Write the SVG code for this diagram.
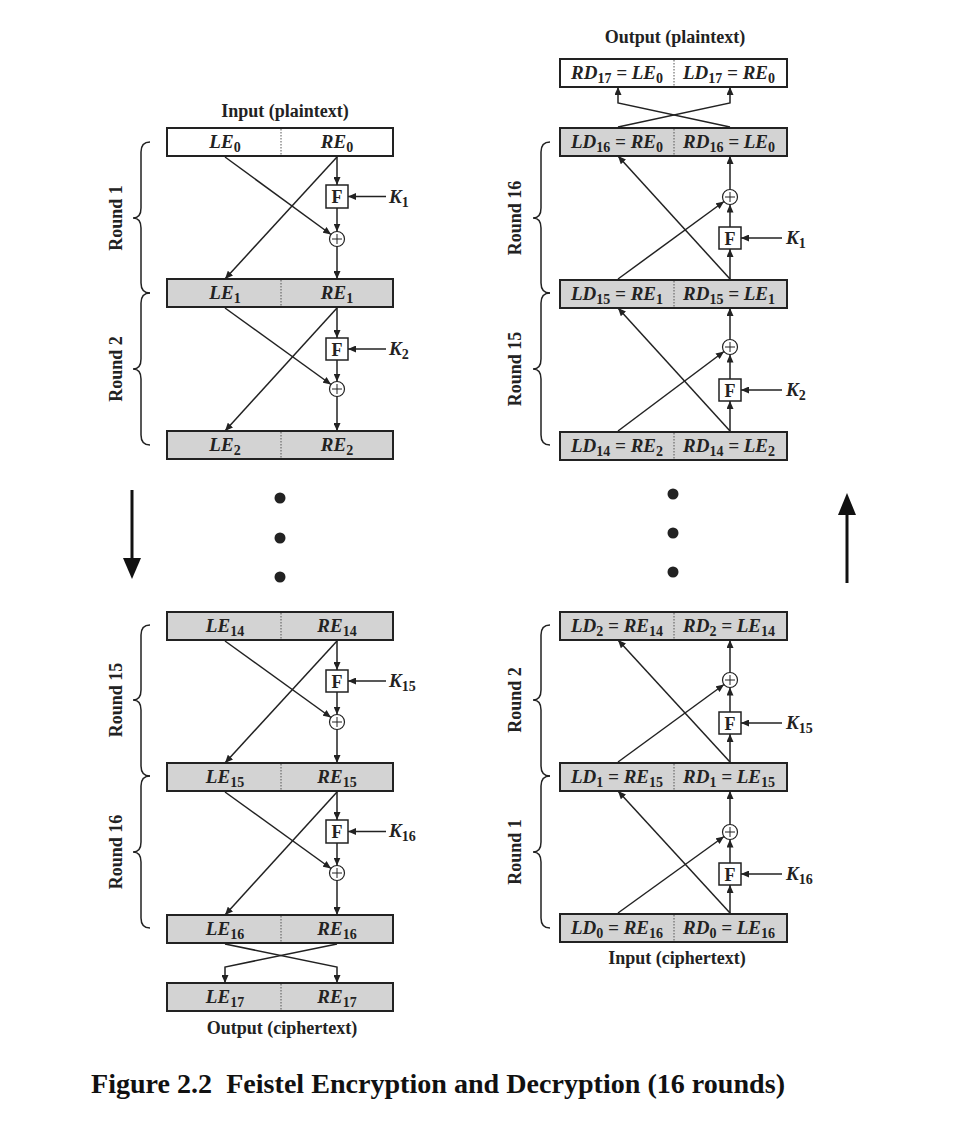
<svg xmlns="http://www.w3.org/2000/svg" width="956" height="1125" viewBox="0 0 956 1125">
<style>
.bx{stroke:#222;stroke-width:2;fill:#d3d3d3}
.bw{stroke:#222;stroke-width:2;fill:#fff}
.dv{stroke:#555;stroke-width:1;stroke-dasharray:1.5,1.5}
.fb{stroke:#222;stroke-width:1.5;fill:#fff}
.ln{stroke:#222;stroke-width:1.5;fill:none}
.ar{stroke:#222;stroke-width:1.5;fill:none;marker-end:url(#ah)}
.lb{font-family:"Liberation Serif",serif;font-weight:bold;font-style:italic;font-size:19px;fill:#222;text-anchor:middle}
.kl{font-family:"Liberation Serif",serif;font-weight:bold;font-style:italic;font-size:19px;fill:#222}
.tt{font-family:"Liberation Serif",serif;font-weight:bold;font-size:18px;fill:#222;text-anchor:middle}
.ff{font-family:"Liberation Serif",serif;font-weight:bold;font-size:18px;fill:#222;text-anchor:middle}
.sb{font-size:14px;font-style:normal}
.cap{font-family:"Liberation Serif",serif;font-weight:bold;font-size:27px;fill:#111}
</style>
<defs>
<marker id="ah" viewBox="0 0 8 7" refX="8" refY="3.5" markerWidth="8" markerHeight="7" markerUnits="userSpaceOnUse" orient="auto">
<path d="M0,0 L8,3.5 L0,7 z" fill="#222"/>
</marker>
<g id="xor"><circle r="7.5" fill="#fff" stroke="#222" stroke-width="1.2"/><path d="M-5,0 H5 M0,-5 V5" stroke="#222" stroke-width="1"/></g>
</defs>
<rect width="956" height="1125" fill="#fff"/>

<!-- LEFT: titles -->
<text class="tt" x="285" y="117">Input (plaintext)</text>
<text class="tt" x="282" y="1034">Output (ciphertext)</text>

<!-- Left boxes -->
<g id="le0"><rect class="bw" x="167" y="128" width="226" height="28"/><line class="dv" x1="281" y1="129" x2="281" y2="155"/>
<text class="lb" x="225" y="148">LE<tspan class="sb" dy="4">0</tspan></text><text class="lb" x="337" y="148">RE<tspan class="sb" dy="4">0</tspan></text></g>
<g id="le1"><rect class="bx" x="167" y="279" width="226" height="28"/><line class="dv" x1="281" y1="280" x2="281" y2="306"/>
<text class="lb" x="225" y="299">LE<tspan class="sb" dy="4">1</tspan></text><text class="lb" x="337" y="299">RE<tspan class="sb" dy="4">1</tspan></text></g>
<g id="le2"><rect class="bx" x="167" y="431" width="226" height="28"/><line class="dv" x1="281" y1="432" x2="281" y2="458"/>
<text class="lb" x="225" y="451">LE<tspan class="sb" dy="4">2</tspan></text><text class="lb" x="337" y="451">RE<tspan class="sb" dy="4">2</tspan></text></g>
<g id="le14"><rect class="bx" x="167" y="612" width="226" height="28"/><line class="dv" x1="281" y1="613" x2="281" y2="639"/>
<text class="lb" x="225" y="632">LE<tspan class="sb" dy="4">14</tspan></text><text class="lb" x="337" y="632">RE<tspan class="sb" dy="4">14</tspan></text></g>
<g id="le15"><rect class="bx" x="167" y="763" width="226" height="28"/><line class="dv" x1="281" y1="764" x2="281" y2="790"/>
<text class="lb" x="225" y="783">LE<tspan class="sb" dy="4">15</tspan></text><text class="lb" x="337" y="783">RE<tspan class="sb" dy="4">15</tspan></text></g>
<g id="le16"><rect class="bx" x="167" y="915" width="226" height="28"/><line class="dv" x1="281" y1="916" x2="281" y2="942"/>
<text class="lb" x="225" y="935">LE<tspan class="sb" dy="4">16</tspan></text><text class="lb" x="337" y="935">RE<tspan class="sb" dy="4">16</tspan></text></g>
<g id="le17"><rect class="bx" x="167" y="983" width="226" height="28"/><line class="dv" x1="281" y1="984" x2="281" y2="1010"/>
<text class="lb" x="225" y="1003">LE<tspan class="sb" dy="4">17</tspan></text><text class="lb" x="337" y="1003">RE<tspan class="sb" dy="4">17</tspan></text></g>

<!-- Left F boxes and XORs -->
<g id="lf1"><rect class="fb" x="326" y="185" width="22" height="23"/><text class="ff" x="337" y="203">F</text></g>
<g id="lx1"><use href="#xor" x="337" y="239"/></g>
<g id="lf2"><rect class="fb" x="326" y="338" width="22" height="22"/><text class="ff" x="337" y="355.5">F</text></g>
<g id="lx2"><use href="#xor" x="337" y="389"/></g>
<g id="lf15"><rect class="fb" x="326" y="670" width="22" height="22"/><text class="ff" x="337" y="687.5">F</text></g>
<g id="lx15"><use href="#xor" x="337" y="722"/></g>
<g id="lf16"><rect class="fb" x="326" y="820" width="22" height="23"/><text class="ff" x="337" y="838">F</text></g>
<g id="lx16"><use href="#xor" x="337" y="873"/></g>

<!-- Left keys -->
<g id="lk1"><text class="kl" x="389" y="203">K<tspan class="sb" dy="4">1</tspan></text></g>
<g id="lk2"><text class="kl" x="389" y="355">K<tspan class="sb" dy="4">2</tspan></text></g>
<g id="lk15"><text class="kl" x="389" y="687">K<tspan class="sb" dy="4">15</tspan></text></g>
<g id="lk16"><text class="kl" x="389" y="837">K<tspan class="sb" dy="4">16</tspan></text></g>

<!-- RIGHT titles -->
<text class="tt" x="675" y="43">Output (plaintext)</text>
<text class="tt" x="677" y="964">Input (ciphertext)</text>

<!-- Right boxes -->
<g id="ld17"><rect class="bw" x="560" y="59" width="227" height="28"/><line class="dv" x1="674" y1="60" x2="674" y2="86"/>
<text class="lb" x="617" y="79">RD<tspan class="sb" dy="4">17</tspan><tspan dy="-4"> = LE</tspan><tspan class="sb" dy="4">0</tspan></text>
<text class="lb" x="729" y="79">LD<tspan class="sb" dy="4">17</tspan><tspan dy="-4"> = RE</tspan><tspan class="sb" dy="4">0</tspan></text></g>
<g id="ld16"><rect class="bx" x="560" y="128" width="227" height="28"/><line class="dv" x1="674" y1="129" x2="674" y2="155"/>
<text class="lb" x="617" y="148">LD<tspan class="sb" dy="4">16</tspan><tspan dy="-4"> = RE</tspan><tspan class="sb" dy="4">0</tspan></text>
<text class="lb" x="729" y="148">RD<tspan class="sb" dy="4">16</tspan><tspan dy="-4"> = LE</tspan><tspan class="sb" dy="4">0</tspan></text></g>
<g id="ld15"><rect class="bx" x="560" y="280" width="227" height="28"/><line class="dv" x1="674" y1="281" x2="674" y2="307"/>
<text class="lb" x="617" y="300">LD<tspan class="sb" dy="4">15</tspan><tspan dy="-4"> = RE</tspan><tspan class="sb" dy="4">1</tspan></text>
<text class="lb" x="729" y="300">RD<tspan class="sb" dy="4">15</tspan><tspan dy="-4"> = LE</tspan><tspan class="sb" dy="4">1</tspan></text></g>
<g id="ld14"><rect class="bx" x="560" y="432" width="227" height="28"/><line class="dv" x1="674" y1="433" x2="674" y2="459"/>
<text class="lb" x="617" y="452">LD<tspan class="sb" dy="4">14</tspan><tspan dy="-4"> = RE</tspan><tspan class="sb" dy="4">2</tspan></text>
<text class="lb" x="729" y="452">RD<tspan class="sb" dy="4">14</tspan><tspan dy="-4"> = LE</tspan><tspan class="sb" dy="4">2</tspan></text></g>
<g id="ld2"><rect class="bx" x="560" y="612" width="227" height="28"/><line class="dv" x1="674" y1="613" x2="674" y2="639"/>
<text class="lb" x="617" y="632">LD<tspan class="sb" dy="4">2</tspan><tspan dy="-4"> = RE</tspan><tspan class="sb" dy="4">14</tspan></text>
<text class="lb" x="729" y="632">RD<tspan class="sb" dy="4">2</tspan><tspan dy="-4"> = LE</tspan><tspan class="sb" dy="4">14</tspan></text></g>
<g id="ld1"><rect class="bx" x="560" y="763" width="227" height="28"/><line class="dv" x1="674" y1="764" x2="674" y2="790"/>
<text class="lb" x="617" y="783">LD<tspan class="sb" dy="4">1</tspan><tspan dy="-4"> = RE</tspan><tspan class="sb" dy="4">15</tspan></text>
<text class="lb" x="729" y="783">RD<tspan class="sb" dy="4">1</tspan><tspan dy="-4"> = LE</tspan><tspan class="sb" dy="4">15</tspan></text></g>
<g id="ld0"><rect class="bx" x="560" y="914" width="227" height="28"/><line class="dv" x1="674" y1="915" x2="674" y2="941"/>
<text class="lb" x="617" y="934">LD<tspan class="sb" dy="4">0</tspan><tspan dy="-4"> = RE</tspan><tspan class="sb" dy="4">16</tspan></text>
<text class="lb" x="729" y="934">RD<tspan class="sb" dy="4">0</tspan><tspan dy="-4"> = LE</tspan><tspan class="sb" dy="4">16</tspan></text></g>

<!-- Right F boxes and XORs -->
<g id="rf16"><rect class="fb" x="719" y="227" width="22" height="22"/><text class="ff" x="730" y="244.5">F</text></g>
<g id="rx16"><use href="#xor" x="730" y="197"/></g>
<g id="rf15"><rect class="fb" x="719" y="379" width="22" height="22"/><text class="ff" x="730" y="396.5">F</text></g>
<g id="rx15"><use href="#xor" x="730" y="347"/></g>
<g id="rf2"><rect class="fb" x="719" y="712" width="22" height="22"/><text class="ff" x="730" y="729.5">F</text></g>
<g id="rx2"><use href="#xor" x="730" y="680"/></g>
<g id="rf1"><rect class="fb" x="719" y="863" width="22" height="22"/><text class="ff" x="730" y="880.5">F</text></g>
<g id="rx1"><use href="#xor" x="730" y="832"/></g>

<!-- Right keys -->
<g id="rk1"><text class="kl" x="786" y="244">K<tspan class="sb" dy="4">1</tspan></text></g>
<g id="rk2"><text class="kl" x="786" y="396">K<tspan class="sb" dy="4">2</tspan></text></g>
<g id="rk15"><text class="kl" x="786" y="729">K<tspan class="sb" dy="4">15</tspan></text></g>
<g id="rk16"><text class="kl" x="786" y="880">K<tspan class="sb" dy="4">16</tspan></text></g>

<!-- Braces and round labels -->
<g id="braces" class="ln">
<path d="M150,142 Q141,142 141,152 L141,208 Q141,218 133,218 Q141,218 141,228 L141,283 Q141,293 150,293"/>
<path d="M150,293 Q141,293 141,303 L141,359 Q141,369 133,369 Q141,369 141,379 L141,435 Q141,445 150,445"/>
<path d="M150,625 Q141,625 141,635 L141,690 Q141,700 133,700 Q141,700 141,710 L141,766 Q141,776 150,776"/>
<path d="M150,776 Q141,776 141,786 L141,842 Q141,852 133,852 Q141,852 141,862 L141,918 Q141,928 150,928"/>
<path d="M550,142 Q541,142 541,152 L541,208 Q541,218 533,218 Q541,218 541,228 L541,283 Q541,293 550,293"/>
<path d="M550,293 Q541,293 541,303 L541,359 Q541,369 533,369 Q541,369 541,379 L541,435 Q541,445 550,445"/>
<path d="M550,625 Q541,625 541,635 L541,690 Q541,700 533,700 Q541,700 541,710 L541,766 Q541,776 550,776"/>
<path d="M550,776 Q541,776 541,786 L541,842 Q541,852 533,852 Q541,852 541,862 L541,918 Q541,928 550,928"/>
</g>
<g id="roundlabels">
<text class="tt" transform="translate(122,218) rotate(-90)">Round 1</text>
<text class="tt" transform="translate(122,369) rotate(-90)">Round 2</text>
<text class="tt" transform="translate(122,700) rotate(-90)">Round 15</text>
<text class="tt" transform="translate(122,852) rotate(-90)">Round 16</text>
<text class="tt" transform="translate(521,218) rotate(-90)">Round 16</text>
<text class="tt" transform="translate(521,369) rotate(-90)">Round 15</text>
<text class="tt" transform="translate(521,700) rotate(-90)">Round 2</text>
<text class="tt" transform="translate(521,852) rotate(-90)">Round 1</text>
</g>

<!-- Connectors -->
<g id="connectors">
<!-- left R1 -->
<path class="ar" d="M337,157 L337,185"/>
<path class="ar" d="M337,208 L337,231.5"/>
<path class="ar" d="M337,246.5 L337,279"/>
<path class="ar" d="M225,157 L331,234.5"/>
<path class="ar" d="M337,157 L225,279"/>
<path class="ar" d="M386,196.5 L348,196.5"/>
<!-- left R2 -->
<path class="ar" d="M337,308 L337,338"/>
<path class="ar" d="M337,360 L337,381.5"/>
<path class="ar" d="M337,396.5 L337,431"/>
<path class="ar" d="M225,308 L331,384.5"/>
<path class="ar" d="M337,308 L225,431"/>
<path class="ar" d="M386,349 L348,349"/>
<!-- left R15 -->
<path class="ar" d="M337,641 L337,670"/>
<path class="ar" d="M337,692 L337,714.5"/>
<path class="ar" d="M337,729.5 L337,763"/>
<path class="ar" d="M225,641 L331,717.5"/>
<path class="ar" d="M337,641 L225,763"/>
<path class="ar" d="M386,681 L348,681"/>
<!-- left R16 -->
<path class="ar" d="M337,792 L337,820"/>
<path class="ar" d="M337,843 L337,865.5"/>
<path class="ar" d="M337,880.5 L337,915"/>
<path class="ar" d="M225,792 L331,868.5"/>
<path class="ar" d="M337,792 L225,915"/>
<path class="ar" d="M386,831.5 L348,831.5"/>
<!-- left swap -->
<path class="ar" d="M225,944 L337,967 L337,983"/>
<path class="ar" d="M337,944 L225,967 L225,983"/>
<!-- right R16 -->
<path class="ar" d="M730,279 L730,249"/>
<path class="ar" d="M730,227 L730,204.5"/>
<path class="ar" d="M730,189.5 L730,156"/>
<path class="ar" d="M618,279 L724,201.5"/>
<path class="ar" d="M730,279 L618,156"/>
<path class="ar" d="M782,238 L741,238"/>
<!-- output swap -->
<path class="ar" d="M618,127 L730,103 L730,87"/>
<path class="ar" d="M730,127 L618,103 L618,87"/>
<!-- right R15 -->
<path class="ar" d="M730,431 L730,401"/>
<path class="ar" d="M730,379 L730,354.5"/>
<path class="ar" d="M730,339.5 L730,308"/>
<path class="ar" d="M618,431 L724,351.5"/>
<path class="ar" d="M730,431 L618,308"/>
<path class="ar" d="M782,390 L741,390"/>
<!-- right R2 -->
<path class="ar" d="M730,762 L730,734"/>
<path class="ar" d="M730,712 L730,687.5"/>
<path class="ar" d="M730,672.5 L730,640"/>
<path class="ar" d="M618,762 L724,684.5"/>
<path class="ar" d="M730,762 L618,640"/>
<path class="ar" d="M782,723 L741,723"/>
<!-- right R1 -->
<path class="ar" d="M730,913 L730,885"/>
<path class="ar" d="M730,863 L730,839.5"/>
<path class="ar" d="M730,824.5 L730,791"/>
<path class="ar" d="M618,913 L724,836.5"/>
<path class="ar" d="M730,913 L618,791"/>
<path class="ar" d="M782,874 L741,874"/>
</g>

<!-- Dots and direction arrows -->
<g id="dots" fill="#222">
<circle cx="280" cy="498" r="5.5"/><circle cx="280" cy="538" r="5.5"/><circle cx="280" cy="577" r="5.5"/>
<circle cx="673" cy="494" r="5.5"/><circle cx="673" cy="533" r="5.5"/><circle cx="673" cy="572" r="5.5"/>
</g>
<g id="dirarrows">
<line x1="132" y1="490" x2="132" y2="562" stroke="#111" stroke-width="3"/>
<polygon points="123,558 141,558 132,579" fill="#111"/>
<line x1="847" y1="583" x2="847" y2="512" stroke="#111" stroke-width="3"/>
<polygon points="838,515 856,515 847,493" fill="#111"/>
</g>

<text class="cap" x="91" y="1093" textLength="694" lengthAdjust="spacingAndGlyphs">Figure 2.2&#160; Feistel Encryption and Decryption (16 rounds)</text>
</svg>
